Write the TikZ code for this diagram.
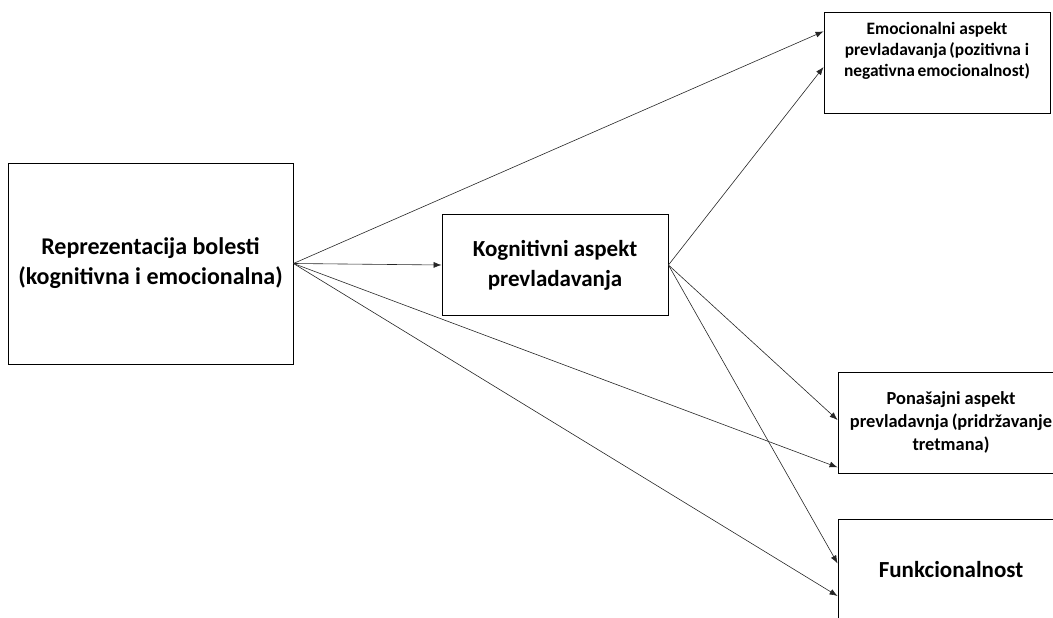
\documentclass[tikz,border=0pt]{standalone}
\usepackage{fontspec}
\setmainfont{Carlito}
\usetikzlibrary{calc,arrows.meta}
\tikzset{
  box/.style={draw, line width=0.9pt, minimum width=226pt, minimum height=101pt,
    inner sep=0pt, align=center, font=\bfseries},
  link/.style={draw=black!85, line width=0.6pt, -{Latex[length=8pt,width=6pt]}},
}
\begin{document}
\begin{tikzpicture}[x=1pt,y=-1pt]
\useasboundingbox (0,0) rectangle (1053,618);
\begin{scope}
\clip (0,0) rectangle (1053,618);
\node[box, minimum width=285pt, minimum height=201pt,
  font=\bfseries\fontsize{24}{30}\selectfont] (rep) at (150.5,263.5)
  {Reprezentacija bolesti\\(kognitivna i emocionalna)};
\node[box, font=\bfseries\fontsize{23}{30}\selectfont] (kog) at (555,265)
  {Kognitivni aspekt\\prevladavanja};
\node[box, anchor=north] (emo) at (937,12) {};
\node[anchor=north, inner sep=0pt, align=center,
  font=\bfseries\fontsize{17.4}{21}\selectfont] (emotext) at ([yshift=-10pt]emo.north)
  {Emocionalni aspekt\\prevladavanja\,(pozitivna i\\negativna\,emocionalnost)};
\node[box, font=\bfseries\fontsize{18.4}{23}\selectfont] (pon) at (951,422.5)
  {Ponašajni aspekt\\prevladavnja\,(pridržavanje\\tretmana)};
\node[box, font=\bfseries\fontsize{23}{30}\selectfont] (fun) at (951,569.5)
  {Funkcionalnost};
\end{scope}
\path[link] (rep.east) -- ($(emo.north west)!0.19!(emo.south west)$);
\path[link] (rep.east) -- (kog.west);
\path[link] (rep.east) -- ($(pon.north west)!0.94!(pon.south west)$);
\path[link] (rep.east) -- ($(fun.north west)!0.76!(fun.south west)$);
\path[link] (kog.east) -- ($(emo.north west)!0.54!(emo.south west)$);
\path[link] (kog.east) -- ($(pon.north west)!0.475!(pon.south west)$);
\path[link] (kog.east) -- ($(fun.north west)!0.44!(fun.south west)$);
\end{tikzpicture}
\end{document}
